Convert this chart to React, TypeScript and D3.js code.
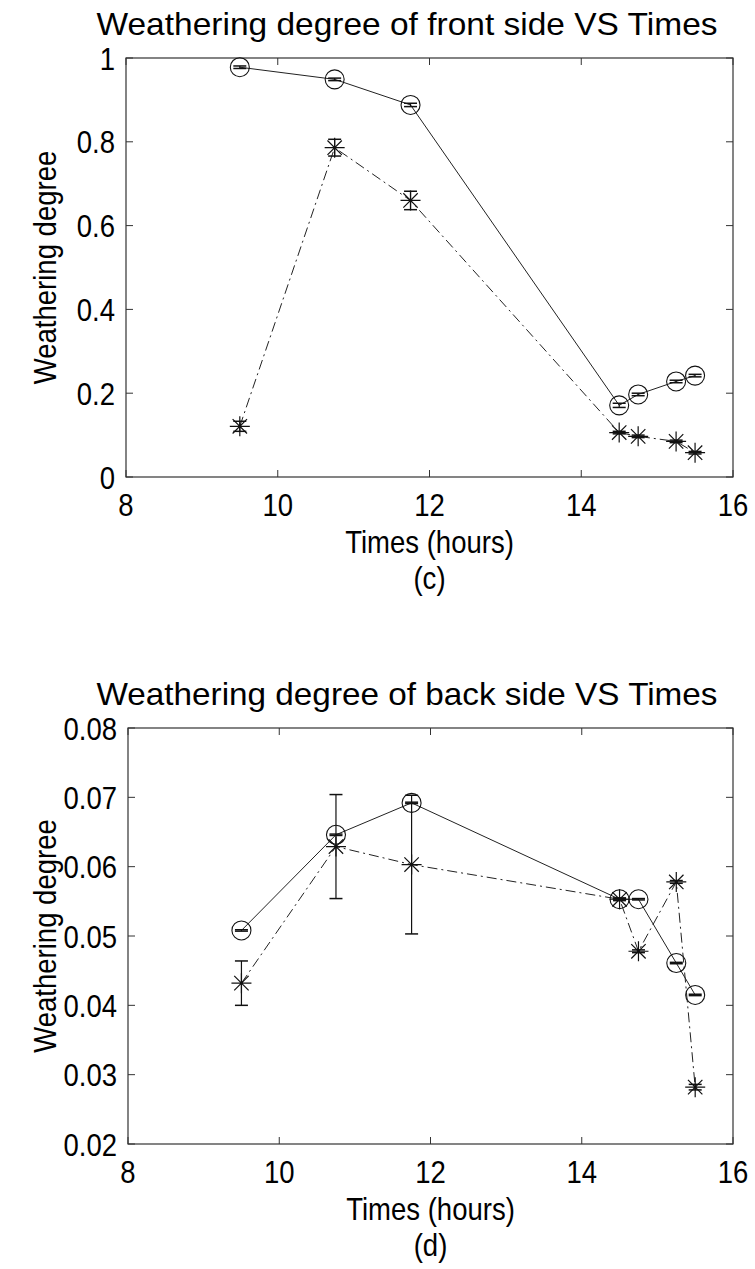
import React from 'react';
import * as d3 from 'd3';

const times = [9.5, 10.75, 11.75, 14.5, 14.75, 15.25, 15.5];

const frontCircle = [0.978, 0.949, 0.888, 0.171, 0.197, 0.228, 0.242];
const frontCircleErr = [0.003, 0.003, 0.004, 0.005, 0.003, 0.003, 0.003];
const frontStar = [0.121, 0.786, 0.66, 0.106, 0.097, 0.085, 0.058];
const frontStarErr = [0.012, 0.02, 0.022, 0.003, 0.003, 0.003, 0.003];

const backCircle = [0.0508, 0.0646, 0.0692, 0.0553, 0.0553, 0.0461, 0.0415];
const backCircleErr = [0.0001, 0.0001, 0.0001, 0.0001, 0.0001, 0.0001, 0.0001];
const backStar = [0.0432, 0.0629, 0.0603, 0.0553, 0.0478, 0.0578, 0.0282];
const backStarErr = [0.0032, 0.0075, 0.01, 0.0002, 0.0002, 0.0002, 0.0004];

const xTicks = [8, 10, 12, 14, 16];
const frontYTicks = [0, 0.2, 0.4, 0.6, 0.8, 1];
const backYTicks = [0.02, 0.03, 0.04, 0.05, 0.06, 0.07, 0.08];

const FONT = "'Liberation Sans', Arial, Helvetica, sans-serif";
const SX = 0.86;
const FS = 32;

type Series = { values: number[]; err: number[]; marker: 'circle' | 'star'; dash?: string };

function starPath(r: number) {
  const d = r * 0.72;
  return `M${-r},0H${r}M0,${-r}V${r}M${-d},${-d}L${d},${d}M${-d},${d}L${d},${-d}`;
}

function Txt(props: { x: number; y: number; anchor?: string; rotate?: number; size?: number; children: React.ReactNode }) {
  const { x, y, anchor = 'middle', rotate = 0, size = FS, children } = props;
  return (
    <text
      transform={`translate(${x},${y}) rotate(${rotate}) scale(${SX},1)`}
      fontSize={size}
      textAnchor={anchor}
      fill="#000"
    >
      {children}
    </text>
  );
}

function Panel(props: {
  left: number; right: number; top: number; bottom: number;
  yDomain: [number, number]; yTicks: number[]; yFmt: (v: number) => string;
  title: string; caption: string; series: Series[];
}) {
  const { left, right, top, bottom, yDomain, yTicks, yFmt, title, caption, series } = props;
  const x = d3.scaleLinear().domain([8, 16]).range([left, right]);
  const y = d3.scaleLinear().domain(yDomain).range([bottom, top]);
  const tick = 7;
  const cx = (left + right) / 2;
  const cy = (top + bottom) / 2;
  const axisColor = '#333';
  return (
    <g fontFamily={FONT}>
      <text x={407} y={top - 23} fontSize={32} textAnchor="middle" textLength={621} lengthAdjust="spacingAndGlyphs" fill="#000">{title}</text>
      <rect x={left} y={top} width={right - left} height={bottom - top} fill="none" stroke={axisColor} strokeWidth={1.2} />
      {xTicks.map((t) => (
        <g key={'x' + t}>
          <line x1={x(t)} x2={x(t)} y1={bottom} y2={bottom - tick} stroke={axisColor} />
          <line x1={x(t)} x2={x(t)} y1={top} y2={top + tick} stroke={axisColor} />
          <Txt x={x(t)} y={bottom + 39}>{t}</Txt>
        </g>
      ))}
      {yTicks.map((t) => (
        <g key={'y' + t}>
          <line x1={left} x2={left + tick} y1={y(t)} y2={y(t)} stroke={axisColor} />
          <line x1={right} x2={right - tick} y1={y(t)} y2={y(t)} stroke={axisColor} />
          <Txt x={left - 11} y={y(t) + 11.5} anchor="end">{yFmt(t)}</Txt>
        </g>
      ))}
      <Txt x={cx} y={bottom + 76}>Times (hours)</Txt>
      <Txt x={cx} y={bottom + 112}>{caption}</Txt>
      <Txt x={56} y={cy} rotate={-90}>Weathering degree</Txt>
      {series.map((s, si) => {
        const line = d3.line<number>().x((_, i) => x(times[i])).y((v) => y(v));
        return (
          <g key={si}>
            <path d={line(s.values) || ''} fill="none" stroke="#222" strokeWidth={1} strokeDasharray={s.dash} />
            {s.values.map((v, i) => {
              const px = x(times[i]);
              const y1 = y(v - s.err[i]);
              const y2 = y(v + s.err[i]);
              const cw = 6.5;
              return (
                <g key={i} stroke="#111" fill="none">
                  <line x1={px} x2={px} y1={y1} y2={y2} strokeWidth={1.2} />
                  <line x1={px - cw} x2={px + cw} y1={y1} y2={y1} strokeWidth={1.5} />
                  <line x1={px - cw} x2={px + cw} y1={y2} y2={y2} strokeWidth={1.5} />
                  {s.marker === 'circle' ? (
                    <circle cx={px} cy={y(v)} r={9.5} strokeWidth={1.1} />
                  ) : (
                    <path d={starPath(10)} transform={`translate(${px},${y(v)})`} strokeWidth={1.2} />
                  )}
                </g>
              );
            })}
          </g>
        );
      })}
    </g>
  );
}

export default function App() {
  return (
    <svg width={755} height={1269} style={{ position: 'absolute', left: 0, top: 0, background: '#fff' }}>
      <rect width={755} height={1269} fill="#fff" />
      <Panel
        left={126} right={733} top={58} bottom={477}
        yDomain={[0, 1]} yTicks={frontYTicks} yFmt={(v) => d3.format('~g')(v)}
        title="Weathering degree of front side VS Times" caption="(c)"
        series={[
          { values: frontCircle, err: frontCircleErr, marker: 'circle' },
          { values: frontStar, err: frontStarErr, marker: 'star', dash: '10,4,2,4' },
        ]}
      />
      <Panel
        left={128} right={733} top={728} bottom={1144}
        yDomain={[0.02, 0.08]} yTicks={backYTicks} yFmt={(v) => d3.format('.2f')(v)}
        title="Weathering degree of back side VS Times" caption="(d)"
        series={[
          { values: backCircle, err: backCircleErr, marker: 'circle' },
          { values: backStar, err: backStarErr, marker: 'star', dash: '10,4,2,4' },
        ]}
      />
    </svg>
  );
}
